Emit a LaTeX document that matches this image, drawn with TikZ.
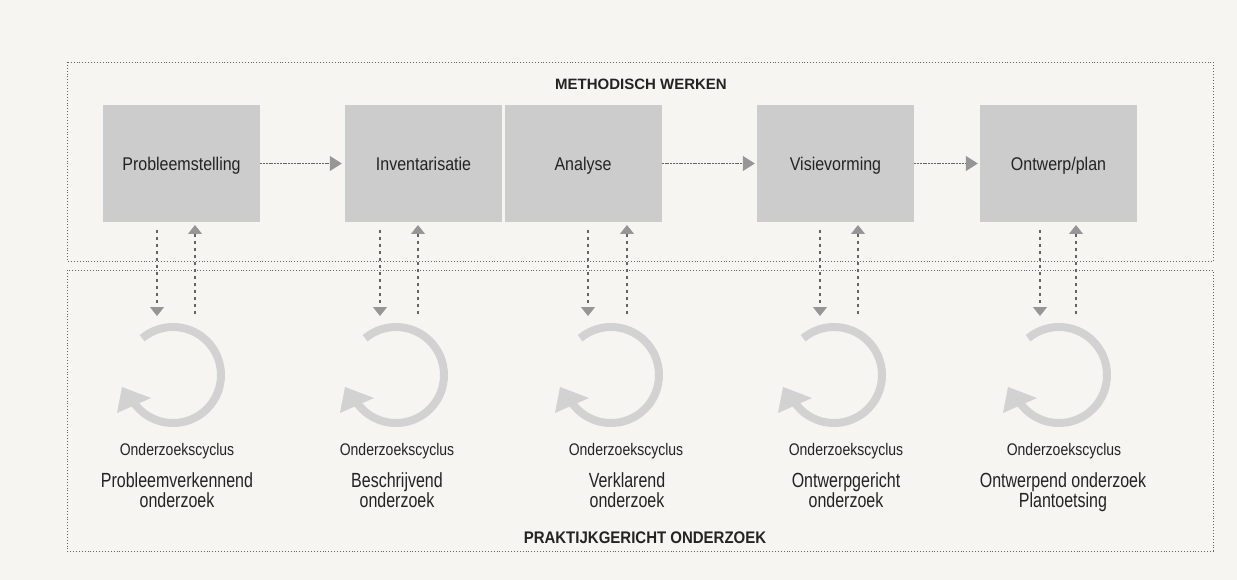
\documentclass[tikz,border=0pt]{standalone}
\usepackage{fontspec}
\usepackage{graphicx}
\setmainfont{Liberation Sans}
\usetikzlibrary{arrows.meta}
\definecolor{paper}{RGB}{246,245,241}
\definecolor{boxgray}{RGB}{204,204,204}
\definecolor{ringgray}{RGB}{210,210,210}
\definecolor{linegray}{RGB}{100,100,100}
\definecolor{headgray}{RGB}{150,150,150}
\definecolor{textgray}{RGB}{35,35,35}
\newcommand{\stretchy}[2]{\scalebox{1}[#1]{#2}}
\begin{document}
\begin{tikzpicture}[x=1pt,y=1pt,
  frame/.style={draw=linegray, dotted, line width=0.9pt},
  stepbox/.style={fill=boxgray, minimum width=157pt, minimum height=117pt, inner sep=0pt,
    text height=15pt, text depth=0pt,
    text=textgray, font=\fontsize{16}{19}\selectfont},
  flow/.style={draw=linegray, line width=1pt, dash pattern=on 2pt off 0.8pt,
    -{Triangle[length=12pt,width=15pt,color=headgray]}},
  link/.style={draw=linegray, line width=1.1pt, dash pattern=on 3pt off 4pt,
    -{Triangle[length=9pt,width=14pt,color=headgray]}},
  ring/.style={draw=ringgray, line width=8pt},
  ringhead/.style={fill=ringgray},
  cyclab/.style={text=textgray, font=\fontsize{14}{17}\selectfont, inner sep=0pt, anchor=base},
  sublab/.style={text=textgray, font=\fontsize{16}{20}\selectfont, inner sep=0pt, anchor=base},
  title/.style={text=textgray, font=\bfseries\fontsize{15}{18}\selectfont, inner sep=0pt, anchor=base}
]
\useasboundingbox (0,0) rectangle (1237,-580);
\fill[paper] (0,0) rectangle (1237,-580);

% frames
\draw[frame] (67,-62) rectangle (1213,-261);
\draw[frame] (67,-270) rectangle (1213,-551);

\node[title] (mw) at (641,-90) {METHODISCH WERKEN};
\node[title] (po) at (645,-543) {\stretchy{1.12}{PRAKTIJKGERICHT ONDERZOEK}};

% step boxes
\node[stepbox] (p) at (181.5,-163.5) {\stretchy{1.15}{Probleemstelling}};
\node[stepbox] (i) at (423.5,-163.5) {\stretchy{1.15}{Inventarisatie}};
\node[stepbox] (a) at (583,-163.5) {\stretchy{1.15}{Analyse}};
\node[stepbox] (v) at (835.5,-163.5) {\stretchy{1.15}{Visievorming}};
\node[stepbox] (o) at (1058.5,-163.5) {\stretchy{1.15}{Ontwerp/plan}};

\draw[flow] (p.east) -- ([xshift=-3pt]i.west);
\draw[flow] (a.east) -- ([xshift=-2pt]v.west);
\draw[flow] (v.east) -- ([xshift=-2pt]o.west);

% columns: down x, up x, circle x, text x
\foreach \n/\dx/\ux/\cx/\tx in {1/157/195/173/177, 2/380/418/396/397, 3/588/627/611/626, 4/820/858/834/846, 5/1040/1076/1059/1064}{
  \coordinate (d\n top) at (\dx,-230);
  \coordinate (d\n bot) at (\dx,-316);
  \coordinate (u\n bot) at (\ux,-314);
  \coordinate (u\n top) at (\ux,-225);
  \draw[link] (d\n top) -- (d\n bot);
  \draw[link] (u\n bot) -- (u\n top);
  \coordinate (c\n) at (\cx,-375);
  \draw[ring] ([shift={(130:48)}]c\n) arc[start angle=130, end angle=-148, radius=48];
  \fill[ringhead] ([shift={(-51,-12)}]c\n) -- ([shift={(-22,-23)}]c\n) -- ([shift={(-56,-38)}]c\n) -- cycle;
  \node[cyclab] (t\n) at (\tx,-455) {\stretchy{1.2}{Onderzoekscyclus}};
}

\node[sublab] (l1a) at (177,-487) {\stretchy{1.28}{Probleemverkennend}};
\node[sublab] (l1b) at (177,-507) {\stretchy{1.28}{onderzoek}};
\node[sublab] (l2a) at (397,-487) {\stretchy{1.28}{Beschrijvend}};
\node[sublab] (l2b) at (397,-507) {\stretchy{1.28}{onderzoek}};
\node[sublab] (l3a) at (627,-487) {\stretchy{1.28}{Verklarend}};
\node[sublab] (l3b) at (627,-507) {\stretchy{1.28}{onderzoek}};
\node[sublab] (l4a) at (846,-487) {\stretchy{1.28}{Ontwerpgericht}};
\node[sublab] (l4b) at (846,-507) {\stretchy{1.28}{onderzoek}};
\node[sublab] (l5a) at (1063,-487) {\stretchy{1.28}{Ontwerpend onderzoek}};
\node[sublab] (l5b) at (1063,-507) {\stretchy{1.28}{Plantoetsing}};
\end{tikzpicture}
\end{document}
